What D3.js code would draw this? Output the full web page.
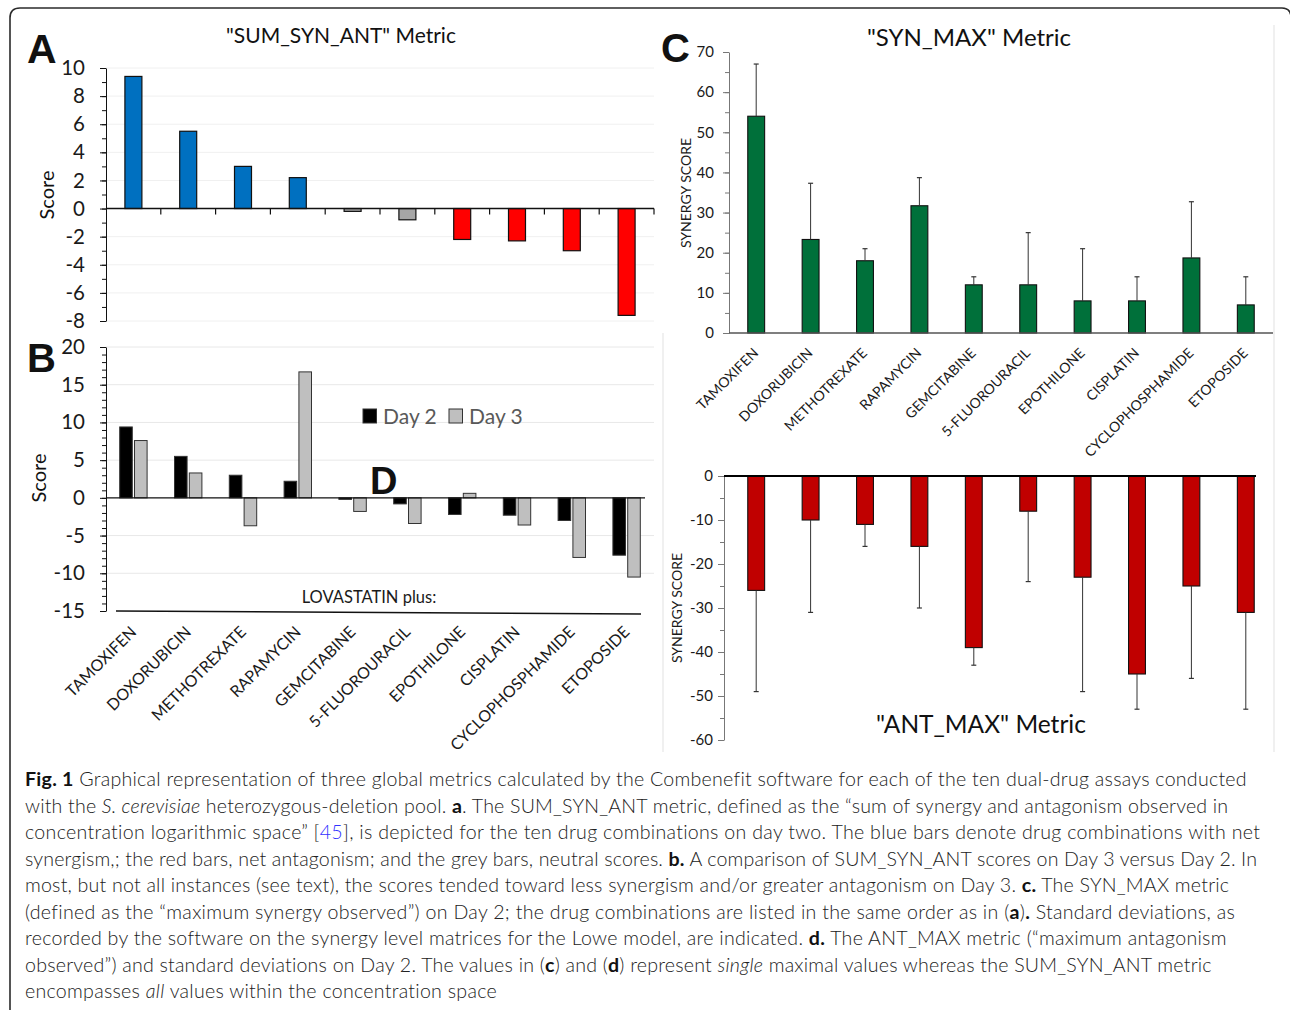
<!DOCTYPE html>
<html><head><meta charset="utf-8">
<script src="https://cdn.jsdelivr.net/npm/d3@7"></script>
<style>
body{margin:0;background:#fff}
svg{display:block}
text{font-family:Lato,"Open Sans",sans-serif}
</style>
</head><body>
<svg id="fig" width="1290" height="1010"></svg>
<script>
// ---------------- data ----------------
const drugs = ["TAMOXIFEN","DOXORUBICIN","METHOTREXATE","RAPAMYCIN","GEMCITABINE","5-FLUOROURACIL","EPOTHILONE","CISPLATIN","CYCLOPHOSPHAMIDE","ETOPOSIDE"];
const sumSynAntDay2 = [9.4, 5.5, 3.0, 2.2, -0.2, -0.8, -2.2, -2.3, -3.0, -7.6];
const sumSynAntDay3 = [7.6, 3.3, -3.7, 16.7, -1.8, -3.4, 0.6, -3.6, -7.9, -10.5];
const netEffect = ["syn","syn","syn","syn","neutral","neutral","ant","ant","ant","ant"];
const synMax = [54, 23.3, 18, 31.7, 12, 12, 8, 8, 18.7, 7];
const synMaxSD = [13, 14, 3, 7, 2, 13, 13, 6, 14, 7];
const antMax = [-26, -10, -11, -16, -39, -8, -23, -45, -25, -31];
const antMaxSD = [23, 21, 5, 14, 4, 16, 26, 8, 21, 22];
const days = ["Day 2","Day 3"];
const ticksA = [10, 8, 6, 4, 2, 0, -2, -4, -6, -8];
const ticksB = [20, 15, 10, 5, 0, -5, -10, -15];
const ticksC = [70, 60, 50, 40, 30, 20, 10, 0];
const ticksD = [0, -10, -20, -30, -40, -50, -60];
const captionLines = [
  [["Fig. 1","b"],[" Graphical representation of three global metrics calculated by the Combenefit software for each of the ten dual-drug assays conducted",""]],
  [["with the ",""],["S. cerevisiae","i"],[" heterozygous-deletion pool. ",""],["a","b"],[". The SUM_SYN_ANT metric, defined as the \u201csum of synergy and antagonism observed in",""]],
  [["concentration logarithmic space\u201d [",""],["45","link"],["], is depicted for the ten drug combinations on day two. The blue bars denote drug combinations with net",""]],
  [["synergism,; the red bars, net antagonism; and the grey bars, neutral scores. ",""],["b.","b"],[" A comparison of SUM_SYN_ANT scores on Day 3 versus Day 2. In",""]],
  [["most, but not all instances (see text), the scores tended toward less synergism and/or greater antagonism on Day 3. ",""],["c.","b"],[" The SYN_MAX metric",""]],
  [["(defined as the \u201cmaximum synergy observed\u201d) on Day 2; the drug combinations are listed in the same order as in (",""],["a","b"],[")",""],[".","b"],[" Standard deviations, as",""]],
  [["recorded by the software on the synergy level matrices for the Lowe model, are indicated. ",""],["d.","b"],[" The ANT_MAX metric (\u201cmaximum antagonism",""]],
  [["observed\u201d) and standard deviations on Day 2. The values in (",""],["c","b"],[") and (",""],["d","b"],[") represent ",""],["single","i"],[" maximal values whereas the SUM_SYN_ANT metric",""]],
  [["encompasses ",""],["all","i"],[" values within the concentration space",""]]
];
const captionEnds = [1246, 1228, 1261, 1257, 1229, 1235, 1226, 1212, 497];

// ---------------- drawing ----------------
const svg = d3.select("#fig");
const ink = "#1a1a1a";

// outer frame
svg.append("path")
  .attr("d","M10,1012 V18 Q10,8 20,8 H1282 Q1290,8 1291,16")
  .attr("fill","none").attr("stroke","#2b2b2b").attr("stroke-width",1.6);

// faint panel borders
[[663,333,663,752],[1274,25,1274,752]].forEach(l=>{
  svg.append("line").attr("x1",l[0]).attr("y1",l[1]).attr("x2",l[2]).attr("y2",l[3])
    .attr("stroke","#e6e6e6").attr("stroke-width",1.2);
});

function panelLetter(t,x,y,size){
  svg.append("text").attr("x",x).attr("y",y).text(t)
    .style("font-family","'Liberation Sans',Arial,sans-serif")
    .attr("font-weight","bold").attr("font-size",size).attr("fill","#111");
}
function yAxis(g, scale, x, major, minor, fontSize, padding, color){
  const ax = g.append("g").attr("transform",`translate(${x},0)`)
    .call(d3.axisLeft(scale).tickValues(minor).tickSize(4).tickSizeOuter(0).tickFormat(""));
  ax.select(".domain").attr("stroke",color);
  ax.selectAll(".tick line").attr("stroke",color);
  const ax2 = g.append("g").attr("transform",`translate(${x},0)`)
    .call(d3.axisLeft(scale).tickValues(major).tickSize(6).tickSizeOuter(0).tickPadding(padding).tickFormat(d=>String(d)));
  ax2.select(".domain").remove();
  ax2.selectAll(".tick line").attr("stroke",color);
  ax2.selectAll(".tick text").attr("font-size",fontSize).attr("fill",ink)
    .style("font-family","Lato,'Open Sans',sans-serif");
}
function rotLabels(g, scale, y, fontSize, dx){
  g.selectAll("text.cat").data(drugs).join("text").attr("class","cat")
    .attr("transform",d=>`translate(${scale(d)+scale.bandwidth()/2+dx},${y}) rotate(-45)`)
    .attr("text-anchor","end").attr("font-size",fontSize).attr("fill",ink)
    .text(d=>d);
}

// ===== Panel A =====
const gA = svg.append("g");
const xA = d3.scaleBand().domain(drugs).range([106,654]).paddingInner(0.69).paddingOuter(0.345);
const yA = d3.scaleLinear().domain([-8,10]).range([321,68]);
const colA = {syn:"#0070C0", neutral:"#A6A6A6", ant:"#FF0000"};
gA.selectAll("line.grid").data(ticksA.filter(v=>v!==0)).join("line").attr("class","grid")
  .attr("x1",106).attr("x2",654).attr("y1",d=>yA(d)).attr("y2",d=>yA(d))
  .attr("stroke","#f0f0f0");
gA.selectAll("rect.bar").data(drugs).join("rect").attr("class","bar")
  .attr("x",d=>xA(d)).attr("width",xA.bandwidth())
  .attr("y",(d,i)=>yA(Math.max(0,sumSynAntDay2[i])))
  .attr("height",(d,i)=>Math.abs(yA(sumSynAntDay2[i])-yA(0)))
  .attr("fill",(d,i)=>colA[netEffect[i]]).attr("stroke","#111").attr("stroke-width",1.2);
yAxis(gA, yA, 106, ticksA, d3.range(-8,11,1), 20.5, 15, "#111");
gA.append("line").attr("x1",106).attr("x2",654).attr("y1",yA(0)).attr("y2",yA(0))
  .attr("stroke","#111").attr("stroke-width",1.4);
gA.selectAll("line.xt").data(drugs).join("line").attr("class","xt")
  .attr("x1",d=>xA(d)+xA.bandwidth()/2+xA.step()/2).attr("x2",d=>xA(d)+xA.bandwidth()/2+xA.step()/2)
  .attr("y1",yA(0)).attr("y2",yA(0)+6).attr("stroke","#111").attr("stroke-width",1.2);
gA.append("text").attr("x",341).attr("y",43).attr("text-anchor","middle")
  .attr("font-size",21).attr("fill","#111").text('"SUM_SYN_ANT" Metric');
gA.append("text").attr("transform",`translate(54,195) rotate(-90)`).attr("text-anchor","middle")
  .attr("font-size",20).attr("fill","#111").text("Score");
panelLetter("A",27,63,41);

// ===== Panel B =====
const gB = svg.append("g");
const xB = d3.scaleBand().domain(drugs).range([106,654]).paddingInner(0.5).paddingOuter(0.25);
const xB2 = d3.scaleBand().domain(days).range([0,xB.bandwidth()]).paddingInner(0.15);
const yB = d3.scaleLinear().domain([-15,20]).range([611,347]);
gB.selectAll("line.grid").data(ticksB.filter(v=>v!==0 && v!==-15)).join("line").attr("class","grid")
  .attr("x1",106).attr("x2",654).attr("y1",d=>yB(d)).attr("y2",d=>yB(d))
  .attr("stroke","#e8e8e8");
const seriesB = [sumSynAntDay2, sumSynAntDay3];
const fillB = {"Day 2":"#000000","Day 3":"#BFBFBF"};
days.forEach((day,k)=>{
  gB.selectAll(`rect.b${k}`).data(drugs).join("rect").attr("class",`b${k}`)
    .attr("x",d=>xB(d)+xB2(day)).attr("width",xB2.bandwidth())
    .attr("y",(d,i)=>yB(Math.max(0,seriesB[k][i])))
    .attr("height",(d,i)=>Math.abs(yB(seriesB[k][i])-yB(0)))
    .attr("fill",fillB[day]).attr("stroke","#333").attr("stroke-width",1);
});
yAxis(gB, yB, 106, ticksB, d3.range(-15,21,1), 20.5, 15, "#111");
gB.append("line").attr("x1",106).attr("x2",645).attr("y1",yB(0)).attr("y2",yB(0))
  .attr("stroke","#111").attr("stroke-width",1.4);
gB.append("line").attr("x1",116).attr("x2",641).attr("y1",611).attr("y2",614)
  .attr("stroke","#111").attr("stroke-width",1.6);
gB.append("text").attr("x",369).attr("y",603).attr("text-anchor","middle")
  .attr("font-size",16.5).attr("fill",ink).text("LOVASTATIN plus:");
gB.append("text").attr("transform",`translate(46,478) rotate(-90)`).attr("text-anchor","middle")
  .attr("font-size",20).attr("fill","#111").text("Score");
// legend
const legX = [363, 449];
days.forEach((day,k)=>{
  gB.append("rect").attr("x",legX[k]).attr("y",409).attr("width",13.5).attr("height",14)
    .attr("fill",fillB[day]).attr("stroke","#333").attr("stroke-width",1);
  gB.append("text").attr("x",legX[k]+20).attr("y",424).attr("font-size",21)
    .attr("fill","#595959").text(day);
});
rotLabels(gB, xB, 633, 16, 4);
panelLetter("B",27,372,40);
panelLetter("D",370,494,38);

// ===== Panel C =====
const gC = svg.append("g");
const xC = d3.scaleBand().domain(drugs).range([729,1273]).paddingInner(0.69).paddingOuter(0.345);
const yC = d3.scaleLinear().domain([0,70]).range([333,52]);
gC.selectAll("rect.bar").data(drugs).join("rect").attr("class","bar")
  .attr("x",d=>xC(d)).attr("width",xC.bandwidth())
  .attr("y",(d,i)=>yC(synMax[i])).attr("height",(d,i)=>yC(0)-yC(synMax[i]))
  .attr("fill","#00703A").attr("stroke","#111").attr("stroke-width",1.1);
const cx = d=>xC(d)+xC.bandwidth()/2;
gC.selectAll("line.err").data(drugs).join("line").attr("class","err")
  .attr("x1",cx).attr("x2",cx)
  .attr("y1",(d,i)=>yC(synMax[i])).attr("y2",(d,i)=>yC(synMax[i]+synMaxSD[i]))
  .attr("stroke","#333").attr("stroke-width",1);
gC.selectAll("line.cap").data(drugs).join("line").attr("class","cap")
  .attr("x1",d=>cx(d)-2.5).attr("x2",d=>cx(d)+2.5)
  .attr("y1",(d,i)=>yC(synMax[i]+synMaxSD[i])).attr("y2",(d,i)=>yC(synMax[i]+synMaxSD[i]))
  .attr("stroke","#333").attr("stroke-width",1.2);
yAxis(gC, yC, 729, ticksC, d3.range(0,71,5), 15, 9, "#777");
gC.append("line").attr("x1",729).attr("x2",1273).attr("y1",yC(0)).attr("y2",yC(0))
  .attr("stroke","#555").attr("stroke-width",1.3);
gC.append("text").attr("x",969).attr("y",46).attr("text-anchor","middle")
  .attr("font-size",24).attr("fill","#111").text('"SYN_MAX" Metric');
gC.append("text").attr("transform",`translate(691,193) rotate(-90)`).attr("text-anchor","middle")
  .attr("font-size",14).attr("fill",ink).text("SYNERGY SCORE");
rotLabels(gC, xC, 354, 14, 3);
panelLetter("C",661,62,40);

// ===== Panel D =====
const gD = svg.append("g");
const yD = d3.scaleLinear().domain([-60,0]).range([740,476]);
gD.selectAll("rect.bar").data(drugs).join("rect").attr("class","bar")
  .attr("x",d=>xC(d)).attr("width",xC.bandwidth())
  .attr("y",yD(0)).attr("height",(d,i)=>yD(antMax[i])-yD(0))
  .attr("fill","#C00000").attr("stroke","#111").attr("stroke-width",1.1);
gD.selectAll("line.err").data(drugs).join("line").attr("class","err")
  .attr("x1",cx).attr("x2",cx)
  .attr("y1",(d,i)=>yD(antMax[i])).attr("y2",(d,i)=>yD(antMax[i]-antMaxSD[i]))
  .attr("stroke","#333").attr("stroke-width",1);
gD.selectAll("line.cap").data(drugs).join("line").attr("class","cap")
  .attr("x1",d=>cx(d)-2.5).attr("x2",d=>cx(d)+2.5)
  .attr("y1",(d,i)=>yD(antMax[i]-antMaxSD[i])).attr("y2",(d,i)=>yD(antMax[i]-antMaxSD[i]))
  .attr("stroke","#333").attr("stroke-width",1.2);
yAxis(gD, yD, 724, ticksD, d3.range(-60,1,5), 15, 5, "#777");
gD.append("line").attr("x1",724).attr("x2",1256).attr("y1",yD(0)).attr("y2",yD(0))
  .attr("stroke","#000").attr("stroke-width",2.2);
gD.append("text").attr("x",981).attr("y",733).attr("text-anchor","middle")
  .attr("font-size",24.5).attr("fill","#111").text('"ANT_MAX" Metric');
gD.append("text").attr("transform",`translate(682,608) rotate(-90)`).attr("text-anchor","middle")
  .attr("font-size",14).attr("fill",ink).text("SYNERGY SCORE");

// ===== Caption =====
const gCap = svg.append("g");
captionLines.forEach((segs,li)=>{
  const t = gCap.append("text").attr("x",25).attr("y",786+li*26.55)
    .attr("font-size",19.6).attr("fill","#222").attr("font-weight",300)
    .style("font-family","Lato,'Open Sans',sans-serif");
  segs.forEach(s=>{
    const ts = t.append("tspan").text(s[0]);
    if(s[1]==="b") ts.attr("font-weight","bold").attr("fill","#111");
    if(s[1]==="i") ts.attr("font-style","italic");
    if(s[1]==="link") ts.attr("fill","#3333ff");
  });
  const target = captionEnds[li];
  if(target){
    const nat = t.node().getComputedTextLength();
    const n = segs.map(s=>s[0]).join("").length;
    const ls = (target-25-nat)/(n-1);
    t.attr("letter-spacing",ls.toFixed(3));
  }
});
</script>
</body></html>
